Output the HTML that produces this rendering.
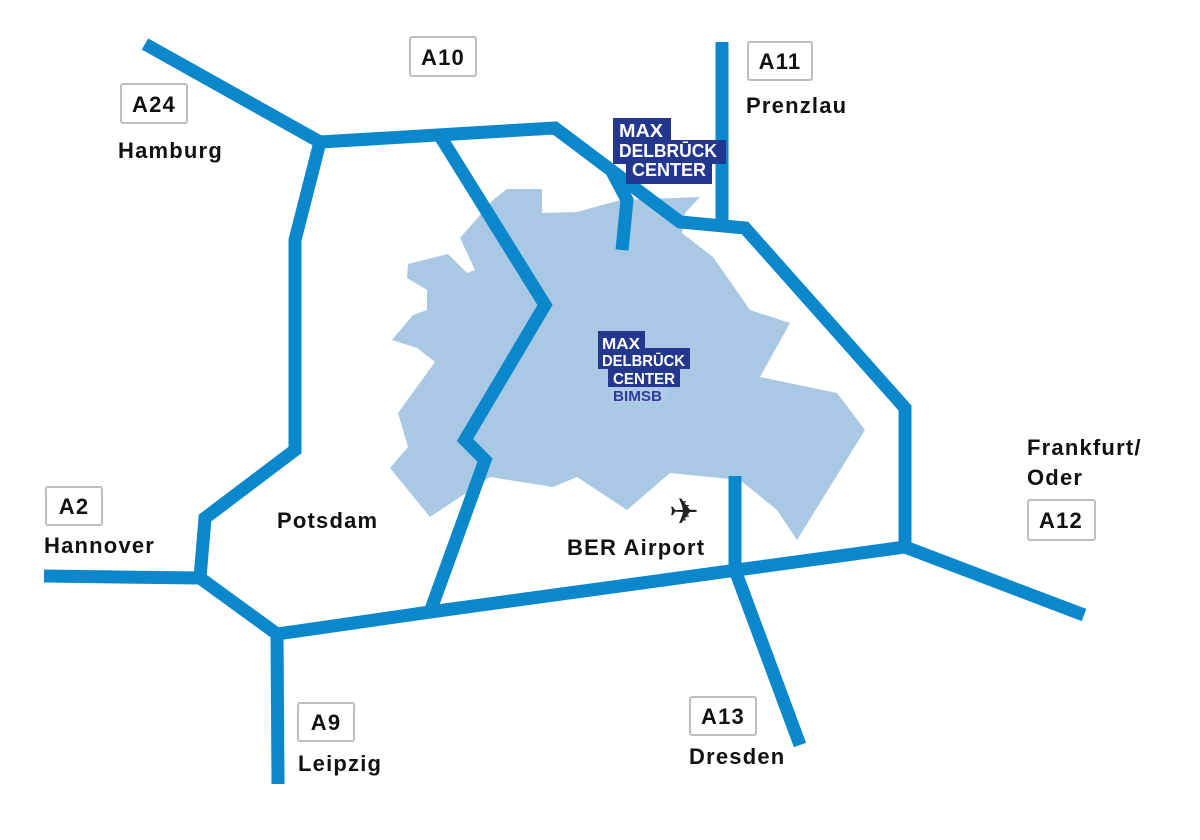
<!DOCTYPE html>
<html><head><meta charset="utf-8">
<style>
html,body{margin:0;padding:0;background:#fff;}
svg{display:block;}
text{font-family:"Liberation Sans",sans-serif;}
.lbl{font-size:22px;font-weight:bold;fill:#111;letter-spacing:1.2px;}
.box{fill:#fff;stroke:#bdbdbd;stroke-width:2;}
.logo{font-size:18px;fill:#fff;font-weight:bold;}
.logo2{font-size:16px;fill:#fff;font-weight:bold;}
</style></head>
<body>
<svg width="1200" height="840" viewBox="0 0 1200 840" xmlns="http://www.w3.org/2000/svg">
<rect width="1200" height="840" fill="#fff"/>
<polygon fill="#a9c8e4" points="493,200 507,189 542,189 542,213 577,212 620,200 700,197 685,213 682,233 713,257 750,310 790,323 760,377 837,393 865,430 797,540 777,510 740,480 670,473 627,510 577,477 553,487 490,477 430,517 390,468 408,447 398,413 435,362 417,348 392,340 413,315 427,310 427,290 407,278 408,264 448,254 467,273 475,270 460,238"/>
<g fill="none" stroke="#0b88cb" stroke-width="13" stroke-linejoin="miter" stroke-linecap="butt">
<polyline points="145,44 320,142 555,128 680,222 745,228 905,408 905,547 430,612 277,634 200,578 205,518 295,450 295,240 320,142"/>
<polyline points="440,136 545,305 465,440 485,460 430,612"/>
<polyline points="44,576 200,578"/>
<polyline points="277,634 278,784"/>
<polyline points="735,476 735,570 800,745"/>
<polyline points="905,547 1084,615"/>
<polyline points="722,42 722,228"/>
<polyline points="610,168 627,200 622,250"/>
</g>
<rect class="box" x="121" y="84" width="66" height="39" rx="2"/><text class="lbl" x="154" y="112" text-anchor="middle">A24</text>
<rect class="box" x="410" y="37" width="66" height="39" rx="2"/><text class="lbl" x="443" y="65" text-anchor="middle">A10</text>
<rect class="box" x="748" y="42" width="64" height="38" rx="2"/><text class="lbl" x="780" y="69" text-anchor="middle">A11</text>
<rect class="box" x="46" y="487" width="56" height="38" rx="2"/><text class="lbl" x="74" y="514" text-anchor="middle">A2</text>
<rect class="box" x="1028" y="500" width="67" height="40" rx="2"/><text class="lbl" x="1061" y="528" text-anchor="middle">A12</text>
<rect class="box" x="298" y="703" width="56" height="38" rx="2"/><text class="lbl" x="326" y="730" text-anchor="middle">A9</text>
<rect class="box" x="690" y="697" width="66" height="38" rx="2"/><text class="lbl" x="723" y="724" text-anchor="middle">A13</text>
<text class="lbl" x="118" y="158">Hamburg</text>
<text class="lbl" x="746" y="113">Prenzlau</text>
<text class="lbl" x="1027" y="455">Frankfurt/</text>
<text class="lbl" x="1027" y="485">Oder</text>
<text class="lbl" x="44" y="553">Hannover</text>
<text class="lbl" x="277" y="528">Potsdam</text>
<text class="lbl" x="567" y="555">BER Airport</text>
<text class="lbl" x="298" y="771">Leipzig</text>
<text class="lbl" x="689" y="764">Dresden</text>
<text x="669" y="524" style="font-family:'DejaVu Sans',sans-serif;font-size:36px;fill:#222;">✈</text>
<g>
<rect x="613" y="118" width="58" height="24" fill="#24378f"/>
<rect x="613" y="140" width="113" height="24" fill="#24378f"/>
<rect x="626" y="162" width="86" height="22" fill="#24378f"/>
<text class="logo" x="619" y="137" textLength="44" lengthAdjust="spacingAndGlyphs">MAX</text>
<text class="logo" x="619" y="157" textLength="98" lengthAdjust="spacingAndGlyphs">DELBRŪCK</text>
<text class="logo" x="632" y="176" textLength="74" lengthAdjust="spacingAndGlyphs">CENTER</text>
</g>
<g>
<rect x="598" y="331" width="47" height="20" fill="#24378f"/>
<rect x="598" y="348" width="92" height="21" fill="#24378f"/>
<rect x="608" y="367" width="72" height="20" fill="#24378f"/>
<text class="logo2" x="602" y="349" textLength="38" lengthAdjust="spacingAndGlyphs">MAX</text>
<text class="logo2" x="602" y="366" textLength="83" lengthAdjust="spacingAndGlyphs">DELBRŪCK</text>
<text class="logo2" x="613" y="384" textLength="62" lengthAdjust="spacingAndGlyphs">CENTER</text>
<rect x="611" y="388" width="56" height="15" fill="#b3c9ea"/>
<text x="613" y="401" textLength="49" lengthAdjust="spacingAndGlyphs" style="font-size:15px;fill:#2c3f95;font-weight:bold;">BIMSB</text>
</g>
</svg>
</body></html>
